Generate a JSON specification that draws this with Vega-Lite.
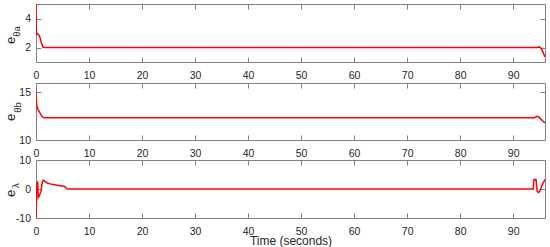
{
  "$schema": "https://vega.github.io/schema/vega-lite/v6.json",
  "padding": {"left": 3, "top": 3, "right": 0, "bottom": 0},
  "datasets": {
    "ea": [
      {"t": 0, "v": 5}, {"t": 0.05, "v": 3.3}, {"t": 0.1, "v": 2.9}, {"t": 0.3, "v": 2.95},
      {"t": 0.5, "v": 2.88}, {"t": 0.7, "v": 2.75}, {"t": 1.0, "v": 2.35}, {"t": 1.3, "v": 2.03},
      {"t": 1.6, "v": 2.0}, {"t": 94.5, "v": 2.0}, {"t": 94.9, "v": 2.04}, {"t": 95.2, "v": 1.98},
      {"t": 95.6, "v": 1.7}, {"t": 96, "v": 1.35}
    ],
    "eb": [
      {"t": 0, "v": 15}, {"t": 0.05, "v": 14.2}, {"t": 0.15, "v": 13.6}, {"t": 0.3, "v": 13.3},
      {"t": 0.5, "v": 13.1}, {"t": 0.8, "v": 12.8}, {"t": 1.1, "v": 12.5}, {"t": 1.4, "v": 12.37},
      {"t": 1.7, "v": 12.35}, {"t": 94.0, "v": 12.35}, {"t": 94.5, "v": 12.5}, {"t": 94.8, "v": 12.45},
      {"t": 95.2, "v": 12.2}, {"t": 95.6, "v": 12.0}, {"t": 96, "v": 11.8}
    ],
    "el": [
      {"t": 0, "v": -10}, {"t": 0.05, "v": -6}, {"t": 0.1, "v": -1}, {"t": 0.2, "v": 1.5},
      {"t": 0.3, "v": 2.7}, {"t": 0.35, "v": 1}, {"t": 0.42, "v": -3}, {"t": 0.5, "v": -2.8},
      {"t": 0.7, "v": -2}, {"t": 0.9, "v": -1}, {"t": 1.0, "v": -0.3}, {"t": 1.1, "v": 1.5},
      {"t": 1.25, "v": 2.8}, {"t": 1.4, "v": 3.0}, {"t": 1.7, "v": 2.6}, {"t": 2.2, "v": 2.0},
      {"t": 3.0, "v": 1.6}, {"t": 4.0, "v": 1.3}, {"t": 5.0, "v": 1.0}, {"t": 5.5, "v": 0.8},
      {"t": 5.8, "v": 0.1}, {"t": 6.0, "v": 0}, {"t": 93.8, "v": 0}, {"t": 93.9, "v": 3.2},
      {"t": 94.3, "v": 3.3}, {"t": 94.45, "v": 0.5}, {"t": 94.55, "v": -0.9}, {"t": 94.8, "v": -1.2},
      {"t": 95.0, "v": -0.8}, {"t": 95.5, "v": 1.5}, {"t": 96, "v": 3.3}
    ]
  },
  "spacing": -8,
  "vconcat": [
    {
      "spacing": 0,
      "vconcat": [
        {
          "width": 509, "height": 58,
          "data": {"name": "ea"},
          "layer": [
            {
              "mark": {"type": "line", "color": "#ff0000", "strokeWidth": 1.5, "clip": true},
              "encoding": {
                "x": {"field": "t", "type": "quantitative", "scale": {"domain": [0, 96], "nice": false, "zero": false},
                      "axis": {"orient": "bottom", "values": [0,10,20,30,40,50,60,70,80,90], "labelPadding": 13.5, "labelFlush": false, "title": null}},
                "y": {"field": "v", "type": "quantitative", "scale": {"domain": [1, 5], "nice": false, "zero": false},
                      "axis": {"orient": "left", "values": [2, 4], "labelPadding": 10.5, "labelExpr": "toString(datum.value)",
                               "title": "e", "titleFontSize": 13, "titleX": -22, "titleY": 36, "titleBaseline": "alphabetic", "titleAlign": "center", "titleAngle": -90}}
              }
            },
            {
              "mark": {"type": "line", "strokeOpacity": 0},
              "encoding": {
                "x": {"field": "t", "type": "quantitative", "scale": {"domain": [0, 96], "nice": false, "zero": false},
                      "axis": {"orient": "top", "values": [0,10,20,30,40,50,60,70,80,90], "labels": false, "title": null}},
                "y": {"field": "v", "type": "quantitative", "scale": {"domain": [1, 5], "nice": false, "zero": false},
                      "axis": {"orient": "right", "values": [2, 4], "labels": false, "title": null}}
              }
            },
            {
              "mark": {"type": "line", "strokeOpacity": 0},
              "encoding": {
                "x": {"field": "t", "type": "quantitative", "scale": {"domain": [0, 96], "nice": false, "zero": false}, "axis": null},
                "y": {"field": "v", "type": "quantitative", "scale": {"domain": [1, 5], "nice": false, "zero": false},
                      "axis": {"orient": "left", "labels": false, "ticks": false, "domain": false,
                               "title": "θa", "titleFontSize": 9.5, "titleX": -16.5, "titleY": 27, "titleBaseline": "alphabetic", "titleAlign": "center", "titleAngle": -90}}
              }
            }
          ],
          "resolve": {"axis": {"x": "independent", "y": "independent"}}
        },
        {
          "width": 509, "height": 57,
          "data": {"name": "eb"},
          "layer": [
            {
              "mark": {"type": "line", "color": "#ff0000", "strokeWidth": 1.5, "clip": true},
              "encoding": {
                "x": {"field": "t", "type": "quantitative", "scale": {"domain": [0, 96], "nice": false, "zero": false},
                      "axis": {"orient": "bottom", "values": [0,10,20,30,40,50,60,70,80,90], "labelPadding": 13.5, "labelFlush": false, "title": null}},
                "y": {"field": "v", "type": "quantitative", "scale": {"domain": [10, 16], "nice": false, "zero": false},
                      "axis": {"orient": "left", "values": [10, 15], "labelPadding": 10.5, "labelExpr": "toString(datum.value)",
                               "title": "e", "titleFontSize": 13, "titleX": -22, "titleY": 34, "titleBaseline": "alphabetic", "titleAlign": "center", "titleAngle": -90}}
              }
            },
            {
              "mark": {"type": "line", "strokeOpacity": 0},
              "encoding": {
                "x": {"field": "t", "type": "quantitative", "scale": {"domain": [0, 96], "nice": false, "zero": false},
                      "axis": {"orient": "top", "values": [0,10,20,30,40,50,60,70,80,90], "labels": false, "title": null}},
                "y": {"field": "v", "type": "quantitative", "scale": {"domain": [10, 16], "nice": false, "zero": false},
                      "axis": {"orient": "right", "values": [10, 15], "labels": false, "title": null}}
              }
            },
            {
              "mark": {"type": "line", "strokeOpacity": 0},
              "encoding": {
                "x": {"field": "t", "type": "quantitative", "scale": {"domain": [0, 96], "nice": false, "zero": false}, "axis": null},
                "y": {"field": "v", "type": "quantitative", "scale": {"domain": [10, 16], "nice": false, "zero": false},
                      "axis": {"orient": "left", "labels": false, "ticks": false, "domain": false,
                               "title": "θb", "titleFontSize": 9.5, "titleX": -16, "titleY": 24, "titleBaseline": "alphabetic", "titleAlign": "center", "titleAngle": -90}}
              }
            }
          ],
          "resolve": {"axis": {"x": "independent", "y": "independent"}}
        }
      ]
    },
    {
      "width": 509, "height": 58,
      "data": {"name": "el"},
      "layer": [
        {
          "mark": {"type": "line", "color": "#ff0000", "strokeWidth": 1.5, "clip": true},
          "encoding": {
            "x": {"field": "t", "type": "quantitative", "scale": {"domain": [0, 96], "nice": false, "zero": false},
                  "axis": {"orient": "bottom", "values": [0,10,20,30,40,50,60,70,80,90], "labelPadding": 13.5, "labelFlush": false,
                           "title": "Time (seconds)", "titleFontSize": 12, "titlePadding": -2}},
            "y": {"field": "v", "type": "quantitative", "scale": {"domain": [-10, 10], "nice": false, "zero": false},
                  "axis": {"orient": "left", "values": [-10, 0, 10], "labelPadding": 10.5, "labelExpr": "toString(datum.value)",
                           "title": "e", "titleFontSize": 13, "titleX": -22, "titleY": 33, "titleBaseline": "alphabetic", "titleAlign": "center", "titleAngle": -90}}
          }
        },
        {
          "mark": {"type": "line", "strokeOpacity": 0},
          "encoding": {
            "x": {"field": "t", "type": "quantitative", "scale": {"domain": [0, 96], "nice": false, "zero": false},
                  "axis": {"orient": "top", "values": [0,10,20,30,40,50,60,70,80,90], "labels": false, "title": null}},
            "y": {"field": "v", "type": "quantitative", "scale": {"domain": [-10, 10], "nice": false, "zero": false},
                  "axis": {"orient": "right", "values": [-10, 0, 10], "labels": false, "title": null}}
          }
        },
        {
          "mark": {"type": "line", "strokeOpacity": 0},
          "encoding": {
            "x": {"field": "t", "type": "quantitative", "scale": {"domain": [0, 96], "nice": false, "zero": false}, "axis": null},
            "y": {"field": "v", "type": "quantitative", "scale": {"domain": [-10, 10], "nice": false, "zero": false},
                  "axis": {"orient": "left", "labels": false, "ticks": false, "domain": false,
                           "title": "λ", "titleFontSize": 9.5, "titleX": -17.5, "titleY": 25, "titleBaseline": "alphabetic", "titleAlign": "center", "titleAngle": -90}}
          }
        }
      ],
      "resolve": {"axis": {"x": "independent", "y": "independent"}}
    }
  ],
  "config": {
    "font": "Liberation Sans",
    "view": {"stroke": "#808080", "strokeWidth": 1},
    "axis": {"domain": false, "grid": false, "tickColor": "#808080", "tickSize": -5, "labelColor": "#262626",
             "labelFontSize": 10.5, "titleColor": "#262626", "titleFontWeight": "normal", "minExtent": 0}
  }
}
